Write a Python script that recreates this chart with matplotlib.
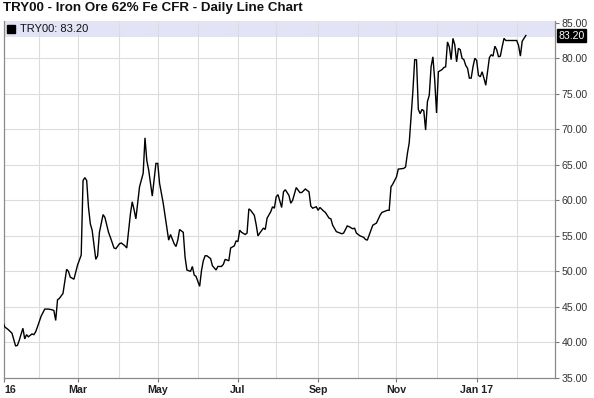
import numpy as np
import matplotlib
matplotlib.use("Agg")
import matplotlib.pyplot as plt
import matplotlib.transforms as mtransforms

plt.rcParams['font.family'] = ['Liberation Sans', 'DejaVu Sans']

# ---------------- data ----------------
start_day = '2016-01-04'
dates = [
    '2016-01-04', '2016-01-05', '2016-01-07', '2016-01-11', '2016-01-13', '2016-01-14', '2016-01-15',
    '2016-01-19', '2016-01-20', '2016-01-21', '2016-01-22', '2016-01-26', '2016-01-27', '2016-01-28',
    '2016-01-29', '2016-02-02', '2016-02-04', '2016-02-08', '2016-02-10', '2016-02-11', '2016-02-12',
    '2016-02-15', '2016-02-16', '2016-02-18', '2016-02-22', '2016-02-23', '2016-02-24', '2016-02-26',
    '2016-03-01', '2016-03-02', '2016-03-03', '2016-03-04', '2016-03-07', '2016-03-08', '2016-03-09',
    '2016-03-10', '2016-03-11', '2016-03-15', '2016-03-16', '2016-03-17', '2016-03-21', '2016-03-22',
    '2016-03-24', '2016-03-25', '2016-03-29', '2016-03-30', '2016-04-01', '2016-04-04', '2016-04-05',
    '2016-04-06', '2016-04-07', '2016-04-11', '2016-04-12', '2016-04-13', '2016-04-14', '2016-04-18',
    '2016-04-20', '2016-04-21', '2016-04-22', '2016-04-25', '2016-04-27', '2016-04-28', '2016-04-29',
    '2016-05-02', '2016-05-03', '2016-05-05', '2016-05-10', '2016-05-11', '2016-05-13', '2016-05-16',
    '2016-05-17', '2016-05-18', '2016-05-20', '2016-05-23', '2016-05-24', '2016-05-26', '2016-05-27',
    '2016-05-30', '2016-05-31', '2016-06-02', '2016-06-03', '2016-06-06', '2016-06-07', '2016-06-08',
    '2016-06-10', '2016-06-13', '2016-06-15', '2016-06-16', '2016-06-20', '2016-06-21', '2016-06-22',
    '2016-06-24', '2016-06-27', '2016-06-29', '2016-06-30', '2016-07-01', '2016-07-04', '2016-07-05',
    '2016-07-07', '2016-07-08', '2016-07-11', '2016-07-12', '2016-07-14', '2016-07-15', '2016-07-18',
    '2016-07-19', '2016-07-21', '2016-07-22', '2016-07-25', '2016-07-27', '2016-07-28', '2016-07-29',
    '2016-08-01', '2016-08-02', '2016-08-04', '2016-08-05', '2016-08-08', '2016-08-10', '2016-08-11',
    '2016-08-12', '2016-08-16', '2016-08-18', '2016-08-19', '2016-08-23', '2016-08-25', '2016-08-26',
    '2016-08-29', '2016-08-31', '2016-09-01', '2016-09-02', '2016-09-06', '2016-09-07', '2016-09-09',
    '2016-09-12', '2016-09-13', '2016-09-15', '2016-09-19', '2016-09-20', '2016-09-21', '2016-09-23',
    '2016-09-26', '2016-09-28', '2016-09-29', '2016-09-30', '2016-10-04', '2016-10-06', '2016-10-07',
    '2016-10-10', '2016-10-12', '2016-10-13', '2016-10-17', '2016-10-19', '2016-10-20', '2016-10-25',
    '2016-10-26', '2016-10-27', '2016-10-28', '2016-11-01', '2016-11-02', '2016-11-07', '2016-11-08',
    '2016-11-09', '2016-11-10', '2016-11-11', '2016-11-14', '2016-11-15', '2016-11-16', '2016-11-17',
    '2016-11-18', '2016-11-21', '2016-11-22', '2016-11-23', '2016-11-24', '2016-11-25', '2016-11-28',
    '2016-11-29', '2016-11-30', '2016-12-01', '2016-12-02', '2016-12-06', '2016-12-07', '2016-12-08',
    '2016-12-09', '2016-12-12', '2016-12-13', '2016-12-14', '2016-12-15', '2016-12-16', '2016-12-19',
    '2016-12-20', '2016-12-21', '2016-12-22', '2016-12-23', '2016-12-26', '2016-12-27', '2016-12-28',
    '2016-12-29', '2016-12-30', '2017-01-02', '2017-01-03', '2017-01-04', '2017-01-05', '2017-01-06',
    '2017-01-09', '2017-01-10', '2017-01-11', '2017-01-12', '2017-01-13', '2017-01-16', '2017-01-17',
    '2017-01-18', '2017-01-19', '2017-01-20', '2017-01-23', '2017-01-24', '2017-02-01', '2017-02-02',
    '2017-02-03', '2017-02-06', '2017-02-07', '2017-02-08',
]
prices = [
    42.9, 42.2, 41.8, 41.3, 39.5, 39.6, 40.3,
    42.0, 40.5, 41.1, 40.8, 41.2, 41.1, 41.5,
    42.2, 43.7, 44.7, 44.7, 44.6, 44.5, 43.1,
    46.0, 46.2, 46.9, 50.3, 50.0, 49.2, 48.9,
    50.9, 51.6, 52.3, 62.8, 63.2, 62.8, 59.0,
    56.7, 55.8, 51.7, 52.2, 55.5, 58.0, 57.6,
    55.5, 54.8, 53.3, 53.2, 53.9, 54.0, 53.8,
    53.6, 53.3, 58.1, 59.8, 58.7, 57.4, 61.9,
    63.8, 68.8, 65.6, 64.3, 60.6, 62.9, 65.2,
    65.2, 62.4, 59.6, 54.4, 55.2, 53.9, 53.5,
    54.4, 55.9, 55.5, 52.0, 50.2, 50.0, 50.7,
    49.5, 49.3, 47.9, 50.1, 51.5, 52.2, 52.2,
    51.8, 50.8, 50.2, 50.7, 50.7, 51.0, 51.7,
    51.5, 53.3, 53.6, 54.3, 54.2, 55.8, 55.5,
    55.2, 55.4, 58.8, 58.6, 57.9, 56.6, 55.0,
    55.4, 56.1, 55.9, 57.5, 58.4, 59.1, 58.9,
    60.5, 60.8, 59.0, 61.2, 61.5, 60.7, 59.6,
    60.0, 61.8, 61.1, 61.1, 61.6, 61.2, 59.2,
    58.9, 59.1, 58.6, 59.0, 58.5, 58.3, 57.5,
    57.4, 56.5, 55.6, 55.4, 55.3, 55.4, 56.4,
    56.3, 56.0, 56.1, 55.4, 55.0, 54.8, 54.5,
    54.4, 55.8, 56.5, 56.8, 57.9, 58.3, 58.6,
    58.6, 61.9, 62.3, 63.3, 64.4, 64.5, 64.7,
    66.6, 68.1, 71.8, 75.3, 79.8, 79.8, 72.8,
    72.2, 72.8, 72.6, 69.9, 73.9, 74.8, 78.8,
    80.2, 76.9, 72.3, 78.1, 78.4, 78.7, 78.8,
    82.3, 81.6, 79.8, 82.8, 81.9, 79.5, 81.4,
    81.2, 80.0, 79.8, 79.0, 78.6, 77.2, 77.2,
    78.8, 80.0, 79.7, 77.6, 77.4, 78.1, 77.2,
    76.2, 78.1, 80.1, 80.5, 80.3, 81.7, 81.2,
    80.2, 80.3, 81.6, 82.8, 82.5, 82.5, 81.8,
    80.3, 82.4, 82.8, 83.2,
]
symbol = 'TRY00'
title = 'TRY00 - Iron Ore 62% Fe CFR - Daily Line Chart'
last_value = 83.20
month_starts = ['2016-02-01', '2016-03-01', '2016-04-01', '2016-05-01', '2016-06-01',
                '2016-07-01', '2016-08-01', '2016-09-01', '2016-10-01', '2016-11-01',
                '2016-12-01', '2017-01-01', '2017-02-01']
label_months = ['2016-03-01', '2016-05-01', '2016-07-01', '2016-09-01', '2016-11-01', '2017-01-01']
label_texts = ['Mar', 'May', 'Jul', 'Sep', 'Nov', 'Jan 17']
y_ticks = [35, 40, 45, 50, 55, 60, 65, 70, 75, 80, 85]

# ---------------- figure ----------------
W, H = 594, 398
fig = plt.figure(figsize=(W / 100, H / 100), dpi=100)
ax = fig.add_axes([4 / W, 20 / H, 551 / W, 357.4 / H])

xpos = np.busday_count(start_day, np.array(dates, dtype='datetime64[D]'))
ax.plot(xpos, prices, color='black', lw=1.0, zorder=3, solid_joinstyle='miter')

ax.set_xlim(0.63, 303.0)
ax.set_ylim(35, 85.3)

# legend band
ax.axhspan(83.0, 85.3, color='#e3e3f8', zorder=0.2, lw=0)

# grids
mpos = np.busday_count(start_day, np.array(month_starts, dtype='datetime64[D]'))
for m in mpos:
    ax.axvline(m, color='#dcdcdc', lw=0.8, zorder=0.5)
for yv in y_ticks[1:-1]:
    ax.axhline(yv, color='#dcdcdc', lw=0.8, zorder=0.5)
ax.axhline(85, color='#e6e6e6', lw=0.6, zorder=0.5)

# x ticks
lpos = list(np.busday_count(start_day, np.array(label_months, dtype='datetime64[D]')))
ax.set_xticks([0.63] + lpos)
ax.set_xticklabels(['16'] + label_texts, fontsize=7.7, fontweight='bold', color='#222222')
first = ax.get_xticklabels()[0]
first.set_horizontalalignment('left')
first.set_transform(first.get_transform() +
                    mtransforms.ScaledTranslation(4 / 100, 0, fig.dpi_scale_trans))
ax.tick_params(axis='x', direction='out', length=3, width=0.8, color='#777777', pad=2)

# y ticks on right
ax.yaxis.tick_right()
ax.set_yticks(y_ticks)
ax.set_yticklabels([f'{v:.2f}' for v in y_ticks], fontsize=7.6, color='#333333')
ax.tick_params(axis='y', direction='out', length=3, width=0.8, color='#777777', pad=2)

for s in ['left', 'right', 'bottom']:
    ax.spines[s].set_color('#8a8a8a')
    ax.spines[s].set_linewidth(0.9)
ax.spines['top'].set_visible(False)

# last value tag
trans = mtransforms.blended_transform_factory(ax.transAxes, ax.transData)
ax.text(1.006, last_value, f'{last_value:.2f}', transform=trans, fontsize=7.6, color='white',
        va='center', ha='left', zorder=5,
        bbox=dict(boxstyle='square,pad=0.12', fc='black', ec='black'))

# legend
ax.plot([0.0127], [84.05], marker='s', ms=5.6, color='black', transform=trans, clip_on=False, zorder=4)
ax.text(0.029, 84.05, f'{symbol}: {last_value:.2f}', transform=trans, fontsize=8, va='center',
        ha='left', color='#111111', zorder=4)

fig.text(3 / W, 1 - 2 / H, title, fontsize=9.6, fontweight='bold', va='top', ha='left', color='#111111')

fig.savefig('out.png', dpi=100)
